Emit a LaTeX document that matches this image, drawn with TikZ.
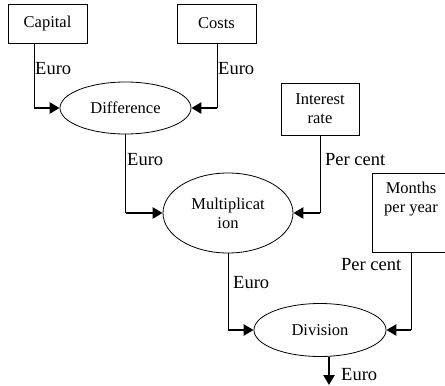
\documentclass[tikz,border=0pt]{standalone}
\usepackage{fontspec}
\setmainfont{Liberation Serif}
\usetikzlibrary{shapes.geometric,arrows.meta}
\tikzset{
  box/.style={draw, line width=0.8pt, inner sep=0pt, align=center, font=\fontsize{16.5}{18.7}\selectfont},
  oval/.style={draw, ellipse, line width=0.8pt, inner sep=0pt, align=center, font=\fontsize{16.5}{19}\selectfont},
  lbl/.style={anchor=base west, inner sep=0pt, font=\fontsize{18.5}{20}\selectfont},
  feed/.style={line width=0.8pt},
  into/.style={line width=2.6pt, -{Triangle[length=10pt,width=11pt]}},
}
\begin{document}
\begin{tikzpicture}[x=1pt,y=-1pt]
\useasboundingbox (0,0) rectangle (445,386);
% boxes
\node[box, minimum width=79, minimum height=39] (capital) at (47.5,23.5) {Capital};
\node[box, minimum width=79, minimum height=39] (costs) at (216.5,23.5) {Costs};
\node[box, minimum width=78, minimum height=52] (interest) at (320,109) {Interest\\rate};
\node[box, minimum width=78, minimum height=79] (months) at (411,212.5) {};
\node[box, draw=none, anchor=north] (monthstext) at ([yshift=-9]months.north) {Months\\per year};
% ellipses
\node[oval, minimum width=131, minimum height=52] (diff) at (125.5,108) {Difference};
\node[oval, minimum width=130, minimum height=80] (mult) at (228,213) {Multiplicat\\ion};
\node[oval, minimum width=132, minimum height=53] (div) at (320,330) {Division};
% corner coordinates
\coordinate (c1) at (34,108);
\coordinate (c2) at (217,108);
\coordinate (c3) at (125.5,213);
\coordinate (c4) at (320,213);
\coordinate (c5) at (228,330);
\coordinate (c6) at (411,330);
\coordinate (out) at (329,385);
% connectors
\draw[feed] (c1 |- capital.south) -- (c1);
\draw[into] (c1) -- (diff.west);
\draw[feed] (c2 |- costs.south) -- (c2);
\draw[into] (c2) -- (diff.east);
\draw[feed] (diff.south) -- (c3);
\draw[into] (c3) -- (mult.west);
\draw[feed] (interest.south) -- (c4);
\draw[into] (c4) -- (mult.east);
\draw[feed] (mult.south) -- (c5);
\draw[into] (c5) -- (div.west);
\draw[feed] (months.south) -- (c6);
\draw[into] (c6) -- (div.east);
\draw[into] (out |- div.south) -- (out);
% labels
\node[lbl] (l1) at (35,74) {Euro};
\node[lbl] (l2) at (218,74) {Euro};
\node[lbl] (l3) at (127,165) {Euro};
\node[lbl] (l4) at (325,165) {Per cent};
\node[lbl] (l5) at (233,288) {Euro};
\node[lbl] (l6) at (341,270) {Per cent};
\node[lbl] (l7) at (341,380) {Euro};
\end{tikzpicture}
\end{document}
